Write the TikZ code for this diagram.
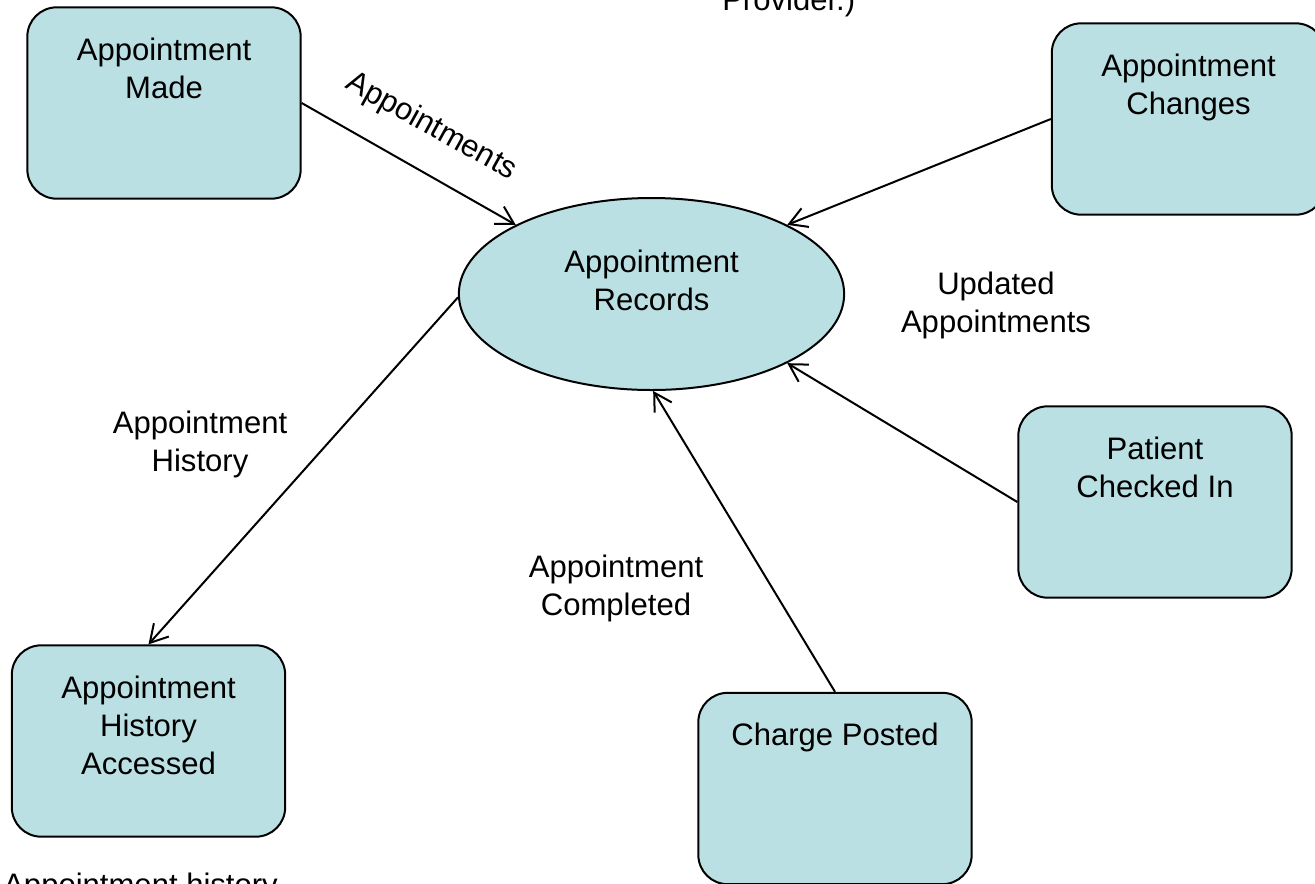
\documentclass[tikz,border=0pt]{standalone}
\usepackage{fontspec}
\setmainfont{Liberation Sans}
\usetikzlibrary{arrows.meta,shapes.geometric}
\definecolor{procfill}{RGB}{187,224,227}
\begin{document}
\begin{tikzpicture}[x=0.75pt,y=-0.75pt,
  every node/.style={font=\fontsize{23.3}{28.5}\selectfont},
  procbox/.style={draw=black,line width=1.5pt,fill=procfill,rounded corners=22pt,
    inner sep=0pt,minimum width=205pt,minimum height=143.5pt},
  storebox/.style={ellipse,draw=black,line width=1.5pt,fill=procfill,
    inner sep=0pt,minimum width=289pt,minimum height=144pt},
  boxtext/.style={anchor=north,inner sep=0pt,align=center,yshift=-23.5pt},
  freetext/.style={inner sep=0pt,align=center},
  flow/.style={line width=1.5pt,-{Straight Barb[length=13pt,width=15pt,line width=1.5pt]}}]
\useasboundingbox (0,0) rectangle (1315,883);
\clip (0,0) rectangle (1315,883);
\fill[white] (0,0) rectangle (1315,883);

% central data store
\node[storebox,label={[boxtext,yshift=-16pt]north:{Appointment\\Records}}] (records) at (651.5,294) {};

% processes
\node[procbox,label={[boxtext]north:{Appointment\\Made}}] (made) at (164,103) {};
\node[procbox,label={[boxtext]north:{Appointment\\Changes}}] (changes) at (1188.5,119) {};
\node[procbox,label={[boxtext]north:{Patient\\Checked In}}] (checked) at (1155,502) {};
\node[procbox,label={[boxtext]north:{Charge Posted}}] (charge) at (835,788.5) {};
\node[procbox,label={[boxtext]north:{Appointment\\History\\Accessed}}] (hist) at (148.5,741) {};

% data flows
\draw[flow] (made.east) -- (records.153);
\draw[flow] (changes.west) -- (records.27);
\draw[flow] (checked.west) -- (records.-27);
\draw[flow] (charge.north) -- (records.-89);
\draw[flow] (records.181) -- (hist.north);

% flow labels
\node[freetext,rotate=-29] (lblappts) at (431,127) {Appointments};
\node[freetext,anchor=north] (lblupd) at (996,272) {Updated\\Appointments};
\node[freetext,anchor=north] (lblhist) at (200,411) {Appointment\\History};
\node[freetext,anchor=north] (lblcomp) at (616,555) {Appointment\\Completed};
\node[freetext,anchor=base west] (lblprov) at (722,10) {Provider.)};
\node[freetext,anchor=north west] (lblhistory) at (3,873) {Appointment history};
\end{tikzpicture}
\end{document}
